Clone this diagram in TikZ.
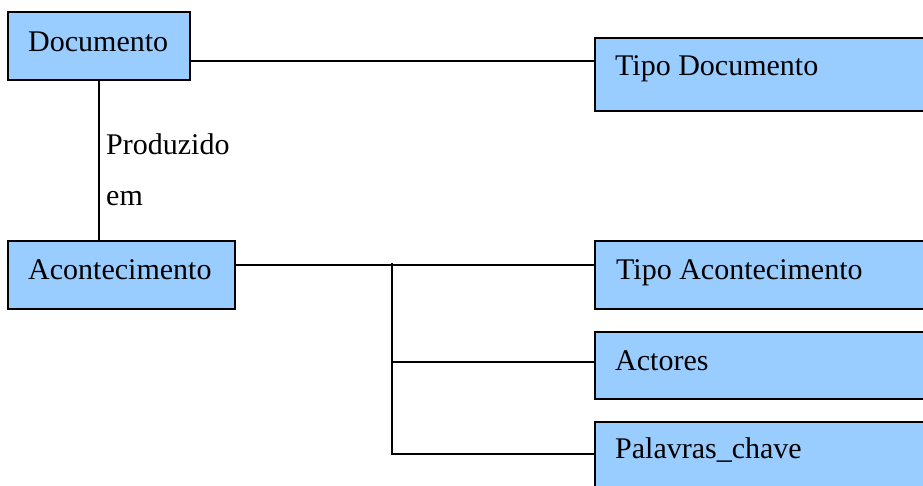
\documentclass[tikz,border=0pt]{standalone}
\usepackage{fontspec}
\setmainfont{Liberation Serif}
\definecolor{boxblue}{RGB}{153,204,255}
\begin{document}
\begin{tikzpicture}[x=1pt,y=-1pt,
  box/.style={draw=black,fill=boxblue,line width=1.5pt,inner sep=0pt,outer sep=0pt},
  txt/.style={anchor=base west,inner sep=0pt,font=\fontsize{30}{36}\selectfont},
  conn/.style={line width=1.5pt}]
\useasboundingbox (0,0) rectangle (923,485);
\clip (0,0) rectangle (923,485);
% boxes
\node[box,minimum width=182pt,minimum height=68pt] (doc) at (99,46) {};
\node[box,minimum width=340pt,minimum height=73pt] (tipodoc) at (765,74.5) {};
\node[box,minimum width=227pt,minimum height=68pt] (acont) at (121.5,275) {};
\node[box,minimum width=340pt,minimum height=68pt] (tipoac) at (765,275) {};
\node[box,minimum width=340pt,minimum height=67pt] (actores) at (765,365.5) {};
\node[box,minimum width=340pt,minimum height=78pt] (palavras) at (765,461) {};
% texts
\node[txt] (tdoc) at (28,51) {Documento};
\node[txt] (ttipodoc) at (615,75) {Tipo Documento};
\node[txt] (tacont) at (28,279) {Acontecimento};
\node[txt] (ttipoac) at (616,279) {Tipo Acontecimento};
\node[txt] (tactores) at (615,370) {Actores};
\node[txt] (tpalavras) at (615,458) {Palavras\_chave};
\node[txt] (tprod) at (106,154) {Produzido};
\node[txt] (tem) at (106,205) {em};
% connectors
\coordinate (j1) at (392,263);
\coordinate (j2) at (392,454);
\draw[conn] (doc.east |- 0,61) -- (tipodoc.west |- 0,61);
\draw[conn] (doc.south) -- (doc.south |- acont.north);
\draw[conn] (acont.east |- 0,265) -- (tipoac.west |- 0,265);
\draw[conn] (j1) -- (j2) -- (palavras.west |- j2);
\draw[conn] (j1 |- 0,362) -- (actores.west |- 0,362);
\end{tikzpicture}
\end{document}
